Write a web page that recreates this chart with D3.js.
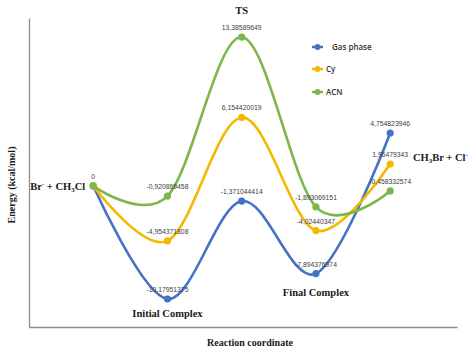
<!DOCTYPE html>
<html>
<head>
<meta charset="utf-8">
<script src="https://cdn.jsdelivr.net/npm/d3@7"></script>
<style>
  body { margin: 0; background: #fff; }
  svg { display: block; }
</style>
</head>
<body>
<svg id="chart" width="474" height="352"></svg>
<script>
// reaction stages (x categories)
const stages = ['Reactants', 'Initial Complex', 'TS', 'Final Complex', 'Products']
// series names
const seriesNames = ['Gas phase', 'Cy', 'ACN']
// energies in kcal/mol
const gasPhase = [0, -10.17951375, -1.371044414, -7.894376974, 4.754823946]
const cy = [0, -4.954371808, 6.154420019, -4.02440347, 1.96479343]
const acn = [0, -0.920869458, 13.38589649, -1.893069151, -0.458332574]
// series colors
const colors = ['#4472c4', '#f5b800', '#7cb749']

function makeChart() {
  const svg = d3.select('#chart')
  const series = [gasPhase, cy, acn]

  // x index scale, frame runs a bit beyond the first and last stage
  const x = d3.scaleLinear().domain([-0.865, 4.9]).range([29, 457])
  // y energy scale
  const y = d3.scaleLinear().domain([-12.7, 15.1]).range([327, 18])

  // axis frame (no ticks, just the lines)
  const axisX = d3.axisBottom(x).tickValues([]).tickSizeOuter(0)
  const axisY = d3.axisLeft(y).tickValues([]).tickSizeOuter(0)
  svg.append('g').attr('transform', `translate(0,${y.range()[0]})`).call(axisX)
  svg.append('g').attr('transform', `translate(${x.range()[0]},0)`).call(axisY)
  svg.selectAll('.domain').attr('stroke', '#8c8c8c').attr('stroke-width', 1.3)

  // smoothed lines
  const line = d3.line()
    .x((d, i) => x(i))
    .y(d => y(d))
    .curve(d3.curveCardinal.tension(0))

  series.forEach((values, s) => {
    svg.append('path')
      .datum(values)
      .attr('d', line)
      .attr('fill', 'none')
      .attr('stroke', colors[s])
      .attr('stroke-width', 2.6)
  })

  series.forEach((values, s) => {
    svg.selectAll(null)
      .data(values)
      .enter()
      .append('circle')
      .attr('cx', (d, i) => x(i))
      .attr('cy', d => y(d))
      .attr('r', 3.6)
      .attr('fill', colors[s])
  })

  // data labels (the shared zero only once)
  series.forEach((values, s) => {
    svg.selectAll(null)
      .data(values.map((v, i) => ({v, i})).filter(d => d.i > 0 || s === 2))
      .enter()
      .append('text')
      .attr('x', d => x(d.i))
      .attr('y', d => y(d.v) - 7)
      .attr('text-anchor', 'middle')
      .attr('font-family', 'Liberation Sans, Arial, sans-serif')
      .attr('font-size', 6.8)
      .attr('fill', '#404040')
      .text(d => d.v === 0 ? '0' : String(d.v).replace('.', ','))
  })

  // stage annotations
  const serif = 'Liberation Serif, DejaVu Serif, serif'
  function note(tx, ty, anchor) {
    return svg.append('text')
      .attr('x', tx).attr('y', ty)
      .attr('text-anchor', anchor)
      .attr('font-family', serif)
      .attr('font-weight', 'bold')
      .attr('font-size', 10.5)
      .attr('fill', '#1a1a1a')
  }
  const reac = note(x(0) - 8, y(0) + 4, 'end')
  reac.append('tspan').text('Br')
  reac.append('tspan').attr('font-size', 7).attr('dy', -4).text('-')
  reac.append('tspan').attr('dy', 4).text(' + CH')
  reac.append('tspan').attr('font-size', 7).attr('dy', 2).text('3')
  reac.append('tspan').attr('dy', -2).text('Cl')

  note(x(1), 317, 'middle').text(stages[1])
  note(x(2), 14, 'middle').text(stages[2])
  note(x(3), 296, 'middle').text(stages[3])

  const prod = note(413, 161, 'start')
  prod.append('tspan').text('CH')
  prod.append('tspan').attr('font-size', 7).attr('dy', 2).text('3')
  prod.append('tspan').attr('dy', -2).text('Br + Cl')
  prod.append('tspan').attr('font-size', 7).attr('dy', -4).text('-')

  // axis titles
  note(250, 346, 'middle').attr('font-size', 10).text('Reaction coordinate')
  note(0, 0, 'middle').attr('font-size', 10)
    .attr('transform', 'translate(15,185) rotate(-90)')
    .text('Energy (kcal/mol)')

  // legend
  const legendY = [47, 69, 92]
  const legendTextX = [332, 326, 326]
  seriesNames.forEach((name, s) => {
    const g = svg.append('g').attr('transform', `translate(312,${legendY[s]})`)
    g.append('line').attr('x1', 0).attr('x2', 11)
      .attr('stroke', colors[s]).attr('stroke-width', 2.4)
    g.append('circle').attr('cx', 5.5).attr('r', 3).attr('fill', colors[s])
    g.append('text')
      .attr('x', legendTextX[s] - 312).attr('y', 3)
      .attr('font-family', 'Open Sans, sans-serif')
      .attr('font-weight', 600)
      .attr('font-size', 8)
      .attr('fill', '#333')
      .text(name)
  })
}

window.onload = makeChart
</script>
</body>
</html>
